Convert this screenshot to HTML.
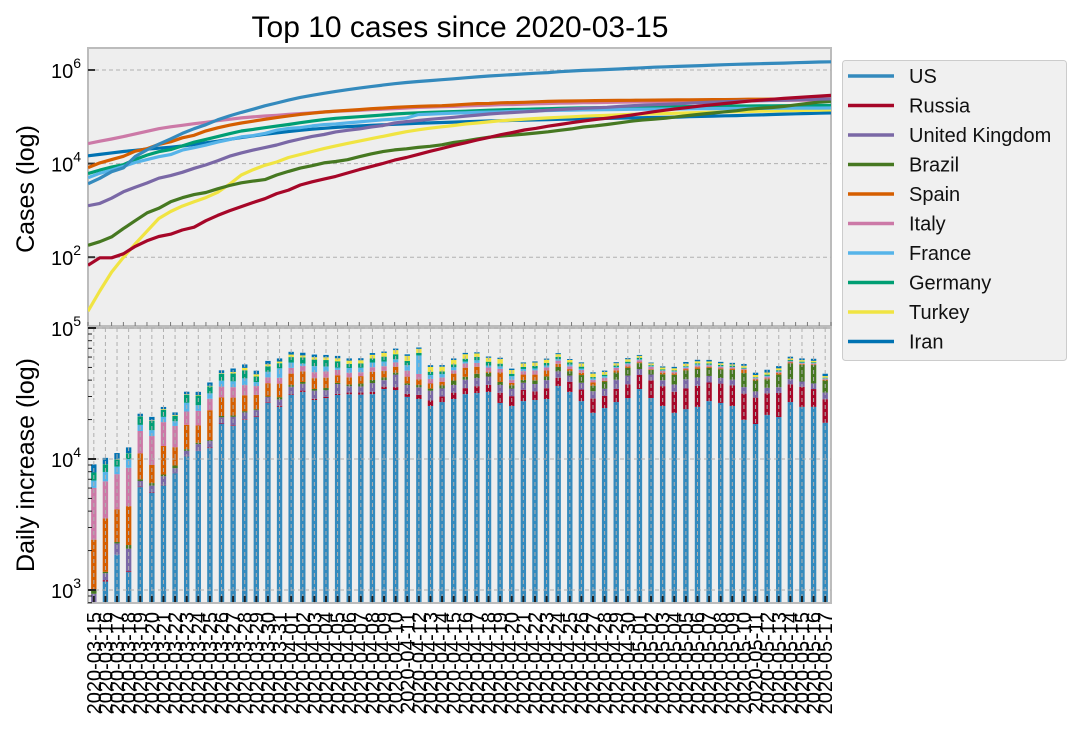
<!DOCTYPE html>
<html><head><meta charset="utf-8">
<style>
html,body{margin:0;padding:0;background:#fff;}
svg{display:block;font-family:"Liberation Sans",sans-serif;}
</style></head>
<body>
<svg id="chart" width="1080" height="733" viewBox="0 0 1080 733">
<text x="460" y="37" text-anchor="middle" font-size="30" fill="#000">Top 10 cases since 2020-03-15</text>
<rect x="88" y="48" width="743" height="278" fill="#eeeeee" stroke="#bcbcbc" stroke-width="2"/>
<rect x="88" y="328" width="743" height="275" fill="#eeeeee" stroke="#bcbcbc" stroke-width="2"/>
<g id="topg"></g>
<g id="botg"></g>
<g id="xlabels"></g>
<text transform="translate(34,189) rotate(-90)" text-anchor="middle" font-size="25">Cases (log)</text>
<text transform="translate(34,465) rotate(-90)" text-anchor="middle" font-size="25">Daily increase (log)</text>
<g id="legend"></g>
</svg>
<script>
const dates = [];
const countries = ["US","Russia","United Kingdom","Brazil","Spain","Italy","France","Germany","Turkey","Iran"];
const colors = ["#348ABD","#A60628","#7A68A6","#467821","#D55E00","#CC79A7","#56B4E9","#009E73","#F0E442","#0072B2"];
const startTotals = [3700,67,1260,180,8200,26800,5000,6100,7,14700];
const dailyUS = [700,1160,1860,1370,6100,5500,6300,7800,10500,11500,12100,18500,17900,19900,20900,26800,25000,30800,32500,28200,29200,30800,31200,31000,31300,34200,33600,29800,28700,25400,27200,28700,31300,31900,32500,26800,25400,27700,28200,28700,36100,32500,27700,22500,24500,27200,29200,34200,29200,25400,22500,24000,25000,27700,26800,25400,19900,18500,21700,20900,27200,25000,25000,18900];
const dailyRussia = [4,30,0,21,52,54,53,33,71,57,163,182,196,228,270,302,501,440,771,601,582,658,954,1154,1175,1459,1786,1667,2186,2558,2774,3388,3448,4070,4268,5236,4774,6060,4593,5966,5642,6361,6198,6411,5841,7099,7933,9623,10633,10581,10102,10559,11231,10699,10817,11012,11656,10899,10028,11012,9974,10598,9200,9709];
const dailyUK = [232,152,407,676,643,714,1035,665,967,1427,1452,2129,2885,2546,2433,2619,3009,4324,4244,4450,3735,5903,3802,3634,5491,4344,8681,5233,4342,5252,4603,4617,5599,5525,5850,4676,4301,4451,4583,5386,4913,4463,4309,3996,4076,6032,6201,4806,4339,3985,4406,6111,5614,4649,3896,3923,3877,3403,3242,3446,3562,3450,3560,3534];
const dailyBrazil = [79,34,57,137,193,283,224,418,345,310,232,482,502,487,352,323,1138,1119,1208,1012,1304,770,1031,1873,2136,1922,1546,1089,1465,1238,1832,3058,2105,3257,2917,2055,2055,1927,2498,2678,3735,3503,5514,3379,4613,5385,6276,5281,3776,4346,6935,6762,6887,6638,6895,7530,9888,6920,5632,8723,13028,13353,14371,7569];
const dailySpain = [1407,2144,1806,2162,4053,2447,4964,3394,6368,4749,9630,8271,7933,7516,6875,7846,7967,8195,7947,7134,6969,5478,5029,5267,6278,5002,5051,4754,3804,3268,2442,5103,7304,5891,887,6948,1536,3968,4211,4635,2915,1729,1831,2144,518,1781,1366,884,545,1318,996,1122,1410,721,772,1083,2666,829,542,1223,794,804,636,596];
const dailyItaly = [3590,3233,3526,4207,5322,5986,6557,5560,4789,5249,5210,6153,5959,5974,5217,4050,4053,4782,4668,4585,4805,4316,3599,3039,3836,4204,3951,4694,4092,3153,2972,2667,3786,3493,3491,3047,2256,2729,3370,2646,3021,2357,2324,1739,2091,2086,1872,1965,1900,1389,1221,1075,1444,1401,1327,1083,802,744,1402,888,992,789,875,675];
const dailyFrance = [838,1210,1097,1404,1861,1617,1847,1559,3838,2446,2931,3922,3809,4611,2599,4376,7578,4861,2116,5233,4267,1873,3912,3777,4286,4342,3114,4785,17164,2937,2645,2673,1860,2633,1773,2183,2606,1843,1653,1764,1580,1631,1102,1045,1219,800,1000,900,700,500,600,800,1200,600,500,400,300,500,600,400,300,500,400,300];
const dailyGermany = [1043,1174,1144,1042,2801,2958,2705,1948,4062,4764,4118,4954,5780,6294,3965,4751,4615,5453,6156,6174,6082,5936,3677,3834,4003,4974,5323,4133,2821,2537,2082,2486,2866,3380,3609,2458,1775,1785,2237,2352,2337,2055,1737,1018,1144,1304,1478,1639,945,793,679,685,947,1284,1209,1158,667,357,933,1019,1062,885,716,487];
const dailyTurkey = [1,12,29,51,93,168,311,277,289,293,343,561,1196,2069,1704,1815,1610,2704,2148,2456,2786,3013,3135,3148,3892,4056,4747,5138,4789,4093,4062,4281,4801,3783,3977,4611,3083,3122,3104,3116,2855,2392,2936,2615,2188,2131,2392,1983,1670,1614,1832,2253,1977,1848,1546,1114,1704,1639,1635,1610,1708,1502,1368,1186];
const dailyIran = [1209,1053,1178,1192,1046,1237,966,1028,1411,1762,2206,2389,2926,3076,2901,3186,3110,3111,2988,2875,2560,2483,2274,2089,1997,1634,1837,1657,1617,1574,1512,1606,1499,1343,1294,1297,1194,1030,1134,1153,1168,991,1030,1073,1112,1006,1223,983,802,976,1223,1680,1485,1529,1383,1481,1683,1808,2294,1958,1757,1735,2102,1806];
const daily = [dailyUS,dailyRussia,dailyUK,dailyBrazil,dailySpain,dailyItaly,dailyFrance,dailyGermany,dailyTurkey,dailyIran];
const topTicks = [2,4,6];
const botTicks = [3,4,5];

(function(){
  const d0 = new Date(Date.UTC(2020,2,15));
  for(let i=0;i<dailyUS.length;i++){const d=new Date(d0.getTime()+i*86400000);dates.push(d.toISOString().slice(0,10));}
})();

const NS="http://www.w3.org/2000/svg";
function mk(tag,attrs,parent){const e=document.createElementNS(NS,tag);for(const k in attrs)e.setAttribute(k,attrs[k]);parent.appendChild(e);return e;}
const nDays = dates.length;
const xLine = i => 88 + i*743/(nDays-1);
const xBar = i => 88 + (i+0.5)*743/nDays;
const yTop = v => 70 - (Math.log10(v)-6)*46.8;
const yBot = v => 328 - (Math.log10(v)-5)*131;
const topG = document.getElementById('topg'), botG = document.getElementById('botg'), xl = document.getElementById('xlabels'), leg=document.getElementById('legend');
const svgEl=document.getElementById('chart');
const defs=mk('defs',{},svgEl);
const cp=mk('clipPath',{id:'ct'},defs); mk('rect',{x:88,y:48,width:743,height:278},cp);
const cp2=mk('clipPath',{id:'cb'},defs); mk('rect',{x:89,y:328,width:741,height:274},cp2);

// top grid & ticks
topTicks.forEach(p=>{
  const y=yTop(Math.pow(10,p));
  const g=mk('line',{x1:88,x2:831,y1:y,y2:y,stroke:'#b0b0b0','stroke-dasharray':'4,3','stroke-width':1},topG);
  
  
  mk('line',{x1:88,x2:95,y1:y,y2:y,stroke:'#333','stroke-width':2},topG);
  const t=mk('text',{x:81,y:y+8,'text-anchor':'end','font-size':20},topG);
  
  
  t.innerHTML='10<tspan font-size="14" dy="-10">'+p+'</tspan>';
});
for(let i=0;i<nDays;i++){mk('line',{x1:xLine(i),x2:xLine(i),y1:326,y2:322,stroke:'#777','stroke-width':1},topG);}
const cg=mk('g',{'clip-path':'url(#ct)'},topG);
for(let c=countries.length-1;c>=0;c--){
  let cum=startTotals[c], pts=[];
  for(let i=0;i<nDays;i++){ if(i>0) cum+=daily[c][i]; pts.push(xLine(i).toFixed(1)+','+yTop(cum).toFixed(1)); }
  const pl=mk('polyline',{points:pts.join(' '),fill:'none',stroke:colors[c],'stroke-width':3.2,'stroke-linejoin':'round'},cg);
  
  
}
// bottom bars
const bg=mk('g',{'clip-path':'url(#cb)'},botG);
for(let i=0;i<nDays;i++){
  let base=0;
  for(let c=0;c<countries.length;c++){
    const v=daily[c][i]; if(v<=0) continue;
    const prev=base, hi=prev+v; base=hi;
    const y1=yBot(hi), y0=prev>0?Math.min(yBot(prev),610):610;
    const r=mk('rect',{x:xBar(i)-2.7,y:y1,width:5.4,height:Math.max(0,y0-y1),fill:colors[c]},bg);
    
    
  }
}
for(let i=0;i<nDays;i++){
  mk('line',{x1:xBar(i),x2:xBar(i),y1:328,y2:603,stroke:'#b0b0b0','stroke-dasharray':'4,3','stroke-width':1},botG);
  mk('line',{x1:xBar(i),x2:xBar(i),y1:602,y2:596,stroke:'#222','stroke-width':2},botG);
  const t=mk('text',{transform:'translate('+(xBar(i)+7)+',612) rotate(-90)','text-anchor':'end','font-size':20},xl);
  
  
  t.textContent=dates[i];
}
botTicks.forEach(p=>{
  const y=yBot(Math.pow(10,p));
  mk('line',{x1:88,x2:831,y1:y,y2:y,stroke:'#b0b0b0','stroke-dasharray':'4,3','stroke-width':1},botG);
  mk('line',{x1:88,x2:96,y1:y,y2:y,stroke:'#222','stroke-width':2},botG);
  const t=mk('text',{x:81,y:y+8,'text-anchor':'end','font-size':20},botG);
  
  
  t.innerHTML='10<tspan font-size="14" dy="-10">'+p+'</tspan>';
});
for(let p=2;p<=4;p++){for(let m=2;m<=9;m++){const y=yBot(m*Math.pow(10,p)); if(y>328&&y<603) mk('line',{x1:88,x2:92,y1:y,y2:y,stroke:'#222','stroke-width':1},botG);}}
// legend
mk('rect',{x:842.5,y:60.5,width:224,height:300,rx:3,fill:'#f0f0f0',stroke:'#cccccc'},leg);
countries.forEach((c,k)=>{
  const y=76+k*29.5;
  const g=mk('g',{},leg);
  
  
  mk('line',{x1:848,x2:894,y1:y,y2:y,stroke:colors[k],'stroke-width':3.5},g);
  const t=mk('text',{x:909,y:y+7,'font-size':20,fill:'#111'},g);
  t.textContent=c;
});
</script>
</body></html>
